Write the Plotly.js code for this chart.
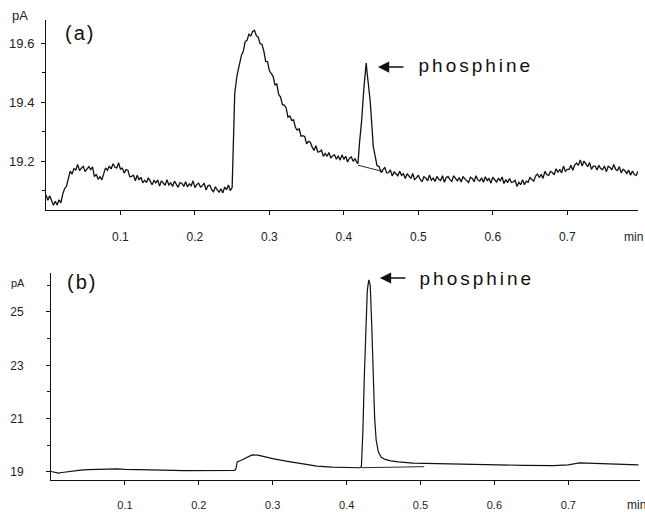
<!DOCTYPE html>
<html>
<head>
<meta charset="utf-8">
<script src="https://cdn.plot.ly/plotly-3.0.1.min.js"></script>
<style>
html, body { margin: 0; padding: 0; background: #fff; }
#chart { width: 645px; height: 512px; }
g.annotation[data-index="0"] text, g.annotation[data-index="1"] text { letter-spacing: 3px; }
g.annotation[data-index="2"] text, g.annotation[data-index="3"] text { letter-spacing: 2px; }
</style>
</head>
<body>
<div id="chart"></div>
<script>
// Panel (a): time (min) and detector signal (pA)
const timeA = [
  0,0.0025,0.005,0.0075,0.01,0.0125,0.015,0.0175,0.02,0.0225,0.025,0.0275,0.03,0.0325,0.035,0.0375,0.04,0.0425,0.045,0.0475,
  0.05,0.0525,0.055,0.0575,0.06,0.0625,0.065,0.0675,0.07,0.0725,0.075,0.0775,0.08,0.0825,0.085,0.0875,0.09,0.0925,0.095,0.0975,
  0.1,0.1025,0.105,0.1075,0.11,0.1125,0.115,0.1175,0.12,0.1225,0.125,0.1275,0.13,0.1325,0.135,0.1375,0.14,0.1425,0.145,0.1475,
  0.15,0.1525,0.155,0.1575,0.16,0.1625,0.165,0.1675,0.17,0.1725,0.175,0.1775,0.18,0.1825,0.185,0.1875,0.19,0.1925,0.195,0.1975,
  0.2,0.2025,0.205,0.2075,0.21,0.2125,0.215,0.2175,0.22,0.2225,0.225,0.2275,0.23,0.2325,0.235,0.2375,0.24,0.2425,0.245,0.2475,
  0.25,
  0.2515,0.2535,0.2565,0.2595,
  0.2625,0.265,0.2675,0.27,0.2725,0.275,0.2775,0.28,0.2825,0.285,0.2875,0.29,0.2925,0.295,0.2975,0.3,0.3025,0.305,0.3075,0.31,
  0.3125,0.315,0.3175,0.32,0.3225,0.325,0.3275,0.33,0.3325,0.335,0.3375,0.34,0.3425,0.345,0.3475,0.35,0.3525,0.355,0.3575,0.36,
  0.3625,0.365,0.3675,0.37,0.3725,0.375,0.3775,0.38,0.3825,0.385,0.3875,0.39,0.3925,0.395,0.3975,0.4,0.4025,0.405,0.4075,0.41,
  0.4125,0.415,0.4175,
  0.419,0.421,0.424,0.427,0.429,0.430,0.431,0.433,0.4355,0.4395,0.442,0.4445,
  0.4475,0.45,0.4525,0.455,0.4575,0.46,0.4625,0.465,0.4675,0.47,0.4725,0.475,0.4775,0.48,0.4825,0.485,0.4875,0.49,0.4925,0.495,
  0.4975,0.5,0.5025,0.505,0.5075,0.51,0.5125,0.515,0.5175,0.52,0.5225,0.525,0.5275,0.53,0.5325,0.535,0.5375,0.54,0.5425,0.545,
  0.5475,0.55,0.5525,0.555,0.5575,0.56,0.5625,0.565,0.5675,0.57,0.5725,0.575,0.5775,0.58,0.5825,0.585,0.5875,0.59,0.5925,0.595,
  0.5975,0.6,0.6025,0.605,0.6075,0.61,0.6125,0.615,0.6175,0.62,0.6225,0.625,0.6275,0.63,0.6325,0.635,0.6375,0.64,0.6425,0.645,
  0.6475,0.65,0.6525,0.655,0.6575,0.66,0.6625,0.665,0.6675,0.67,0.6725,0.675,0.6775,0.68,0.6825,0.685,0.6875,0.69,0.6925,0.695,
  0.6975,0.7,0.7025,0.705,0.7075,0.71,0.7125,0.715,0.7175,0.72,0.7225,0.725,0.7275,0.73,0.7325,0.735,0.7375,0.74,0.7425,0.745,
  0.7475,0.75,0.7525,0.755,0.7575,0.76,0.7625,0.765,0.7675,0.77,0.7725,0.775,0.7775,0.78,0.7825,0.785,0.7875,0.79,0.7925,0.795];
const signalA = [
  19.085,19.067,19.082,19.062,19.050,19.064,19.051,19.069,19.058,19.088,19.107,19.114,19.139,19.166,19.156,19.174,19.170,19.188,19.168,19.177,
  19.183,19.164,19.175,19.181,19.171,19.180,19.147,19.155,19.138,19.147,19.136,19.156,19.177,19.169,19.183,19.173,19.191,19.180,19.176,19.194,
  19.173,19.176,19.159,19.171,19.169,19.147,19.148,19.152,19.133,19.152,19.136,19.145,19.126,19.135,19.127,19.143,19.133,19.120,19.134,19.126,
  19.136,19.115,19.133,19.127,19.118,19.137,19.119,19.126,19.114,19.132,19.121,19.111,19.127,19.124,19.114,19.130,19.112,19.123,19.116,19.133,
  19.110,19.121,19.125,19.112,19.116,19.125,19.102,19.117,19.118,19.103,19.096,19.113,19.102,19.095,19.106,19.092,19.112,19.103,19.119,19.100,
  19.110,
  19.300,19.430,19.490,19.530,
  19.559,19.572,19.605,19.609,19.630,19.624,19.639,19.643,19.625,19.620,19.598,19.596,19.573,19.538,19.537,19.506,19.494,19.487,19.458,19.461,
  19.426,19.417,19.391,19.390,19.380,19.349,19.353,19.338,19.340,19.314,19.305,19.309,19.284,19.286,19.283,19.258,19.267,19.264,19.247,19.236,
  19.252,19.231,19.232,19.237,19.216,19.226,19.216,19.229,19.210,19.218,19.221,19.206,19.218,19.203,19.221,19.206,19.216,19.197,19.210,19.214,
  19.199,19.208,19.195,
  19.192,19.260,19.340,19.450,19.510,19.532,19.505,19.460,19.400,19.250,19.210,19.185,
  19.181,19.161,19.171,19.178,19.160,19.161,19.170,19.149,19.163,19.158,19.150,19.165,19.151,19.157,19.141,19.157,19.149,19.141,19.158,19.137,
  19.143,19.152,19.138,19.130,19.147,19.143,19.133,19.153,19.135,19.142,19.131,19.148,19.138,19.134,19.150,19.128,19.144,19.147,19.137,19.131,
  19.150,19.139,19.133,19.144,19.129,19.147,19.140,19.134,19.127,19.145,19.141,19.130,19.150,19.136,19.132,19.143,19.128,19.147,19.134,19.141,
  19.125,19.145,19.138,19.129,19.141,19.133,19.146,19.124,19.137,19.127,19.141,19.127,19.129,19.135,19.114,19.128,19.120,19.137,19.120,19.132,
  19.128,19.144,19.137,19.132,19.149,19.156,19.144,19.155,19.141,19.165,19.154,19.151,19.165,19.161,19.153,19.174,19.161,19.172,19.160,19.183,
  19.165,19.172,19.172,19.186,19.169,19.186,19.193,19.185,19.204,19.183,19.200,19.189,19.181,19.195,19.172,19.183,19.183,19.170,19.186,19.174,
  19.171,19.183,19.164,19.182,19.178,19.170,19.188,19.172,19.168,19.181,19.160,19.172,19.167,19.158,19.169,19.152,19.166,19.154,19.151,19.165];
const baseTimeA = [0.419, 0.453];
const baseSignalA = [19.186, 19.164];

// Panel (b)
const timeB = [0.000,0.005,0.010,0.015,0.020,0.030,0.040,0.050,0.060,0.080,0.090,0.100,0.120,0.150,0.180,0.200,0.220,0.248,0.250,0.252,
  0.258,0.265,0.272,0.280,0.290,0.300,0.320,0.340,0.360,0.380,0.400,0.418,0.420,0.422,0.424,0.426,0.428,0.430,0.432,0.434,
  0.436,0.438,0.440,0.443,0.447,0.452,0.460,0.470,0.490,0.520,0.560,0.600,0.640,0.680,0.700,0.715,0.730,0.760,0.795];
const signalB = [19.02,18.98,18.96,18.98,19.00,19.05,19.07,19.09,19.10,19.10,19.12,19.10,19.08,19.07,19.05,19.06,19.06,19.06,19.10,19.38,
  19.45,19.55,19.64,19.63,19.56,19.50,19.40,19.30,19.22,19.18,19.17,19.16,19.20,20.50,22.60,24.60,25.80,26.20,26.00,24.50,
  22.60,21.00,20.20,19.75,19.55,19.47,19.42,19.38,19.33,19.31,19.30,19.28,19.25,19.24,19.27,19.34,19.33,19.30,19.27];
const baseTimeB = [0.420, 0.505];
const baseSignalB = [19.16, 19.20];

// Tick labels
const xTicks = [0.1, 0.2, 0.3, 0.4, 0.5, 0.6, 0.7];
const xTickText = ['0.1', '0.2', '0.3', '0.4', '0.5', '0.6', '0.7'];
const yTicksA = [19.2, 19.4, 19.6];
const yTickTextA = ['19.2', '19.4', '19.6'];
const yMinorA = [19.1, 19.3, 19.5];
const yTicksB = [19, 21, 23, 25];
const yTickTextB = ['19', '21', '23', '25'];
const yMinorB = [20, 22, 24, 26];

const traces = [
  { x: timeA, y: signalA, xaxis: 'x', yaxis: 'y', mode: 'lines', line: { color: '#111', width: 1.3 }, hoverinfo: 'skip' },
  { x: baseTimeA, y: baseSignalA, xaxis: 'x', yaxis: 'y', mode: 'lines', line: { color: '#111', width: 0.9 }, hoverinfo: 'skip' },
  { x: timeB, y: signalB, xaxis: 'x2', yaxis: 'y2', mode: 'lines', line: { color: '#111', width: 1.2 }, hoverinfo: 'skip' },
  { x: baseTimeB, y: baseSignalB, xaxis: 'x2', yaxis: 'y2', mode: 'lines', line: { color: '#111', width: 0.9 }, hoverinfo: 'skip' }
];

const font = { family: 'Liberation Sans, Arial, sans-serif', color: '#222' };
const axisCommon = {
  showline: true, linecolor: '#111', linewidth: 1, showgrid: false, zeroline: false,
  ticks: 'outside', ticklen: 4, tickcolor: '#111', tickwidth: 1, fixedrange: true
};

const layout = {
  width: 645, height: 512,
  margin: { l: 0, r: 0, t: 0, b: 0 },
  paper_bgcolor: '#fff', plot_bgcolor: '#fff',
  showlegend: false,
  font: font,
  xaxis: Object.assign({}, axisCommon, {
    domain: [0.0713, 0.9891], range: [0, 0.795], anchor: 'y',
    tickvals: xTicks, ticktext: xTickText, tickfont: { size: 12, color: '#222' }, ticklabelstandoff: 12
  }),
  yaxis: Object.assign({}, axisCommon, {
    domain: [0.5898, 0.9609], range: [19.034, 19.678], anchor: 'x',
    tickvals: yTicksA, ticktext: yTickTextA, tickfont: { size: 13, color: '#222' }, ticklabelstandoff: 4,
    minor: { tickvals: yMinorA, ticks: 'outside', ticklen: 3, tickcolor: '#111' }
  }),
  xaxis2: Object.assign({}, axisCommon, {
    domain: [0.0791, 0.9922], range: [0, 0.797], anchor: 'y2',
    tickvals: xTicks, ticktext: xTickText, tickfont: { size: 11, color: '#222' }, ticklabelstandoff: 11
  }),
  yaxis2: Object.assign({}, axisCommon, {
    domain: [0.0625, 0.4668], range: [18.7, 26.46], anchor: 'x2',
    tickvals: yTicksB, ticktext: yTickTextB, tickfont: { size: 12, color: '#222' }, ticklabelstandoff: 20,
    minor: { tickvals: yMinorB, ticks: 'outside', ticklen: 3, tickcolor: '#111' }
  }),
  annotations: [
    { text: 'phosphine', xref: 'paper', yref: 'paper', x: 0.7385, y: 0.873, xanchor: 'center', yanchor: 'middle', showarrow: false, font: { size: 19, color: '#111', family: font.family } },
    { text: 'phosphine', xref: 'paper', yref: 'paper', x: 0.740, y: 0.457, xanchor: 'center', yanchor: 'middle', showarrow: false, font: { size: 19, color: '#111', family: font.family } },
    { text: '(a)', xref: 'paper', yref: 'paper', x: 0.124, y: 0.9355, xanchor: 'center', yanchor: 'middle', showarrow: false, font: { size: 20, color: '#111', family: font.family } },
    { text: '(b)', xref: 'paper', yref: 'paper', x: 0.127, y: 0.449, xanchor: 'center', yanchor: 'middle', showarrow: false, font: { size: 20, color: '#111', family: font.family } },
    { text: 'pA', xref: 'paper', yref: 'paper', x: 0.031, y: 0.969, xanchor: 'center', yanchor: 'middle', showarrow: false, font: { size: 13, color: '#222', family: font.family } },
    { text: 'pA', xref: 'paper', yref: 'paper', x: 0.028, y: 0.447, xanchor: 'center', yanchor: 'middle', showarrow: false, font: { size: 11, color: '#222', family: font.family } },
    { text: 'min', xref: 'paper', yref: 'paper', x: 0.9645, y: 0.538, xanchor: 'left', yanchor: 'middle', showarrow: false, font: { size: 12, color: '#222', family: font.family } },
    { text: 'min', xref: 'paper', yref: 'paper', x: 0.969, y: 0.013, xanchor: 'left', yanchor: 'middle', showarrow: false, font: { size: 12, color: '#222', family: font.family } },
    { text: '', xref: 'paper', yref: 'paper', x: 0.586, y: 0.869, showarrow: true, ax: 27, ay: 0, arrowhead: 2, arrowsize: 1.6, arrowwidth: 1.4, arrowcolor: '#111', standoff: 0 },
    { text: '', xref: 'paper', yref: 'paper', x: 0.589, y: 0.457, showarrow: true, ax: 27, ay: 0, arrowhead: 2, arrowsize: 1.6, arrowwidth: 1.4, arrowcolor: '#111', standoff: 0 }
  ]
};

Plotly.newPlot('chart', traces, layout, { staticPlot: true, displayModeBar: false });
</script>
</body>
</html>
